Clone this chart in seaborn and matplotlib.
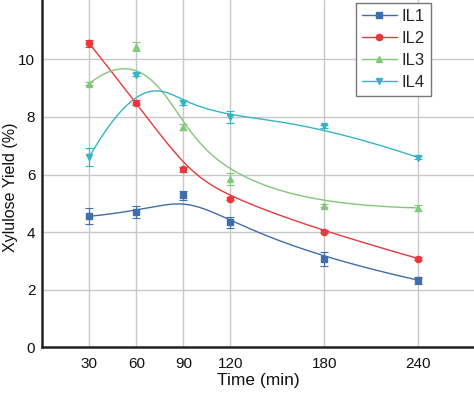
import numpy as np
import pandas as pd
import matplotlib
matplotlib.use("Agg")
import matplotlib.pyplot as plt
import seaborn as sns
from matplotlib.lines import Line2D

# time points (min)
time = [30, 60, 90, 120, 180, 240]

# xylulose yield (%) and error bars
il1 = [4.55, 4.70, 5.28, 4.34, 3.06, 2.33]
il1_err = [0.28, 0.20, 0.15, 0.20, 0.25, 0.12]
il2 = [10.55, 8.50, 6.18, 5.16, 4.01, 3.08]
il2_err = [0.12, 0.08, 0.08, 0.05, 0.05, 0.05]
il3 = [9.16, 10.44, 7.64, 5.84, 4.92, 4.84]
il3_err = [0.05, 0.15, 0.10, 0.20, 0.05, 0.10]
il4 = [6.61, 9.46, 8.50, 8.00, 7.68, 6.59]
il4_err = [0.30, 0.05, 0.10, 0.20, 0.05, 0.05]

names = ["IL1", "IL2", "IL3", "IL4"]
colors = ["#3f6eaa", "#e8383d", "#82c87a", "#35b4c8"]
markers = ["s", "o", "^", "v"]


def bspline(px, py, n=300, p=3):
    # clamped cubic B-spline using the data as control points (Origin style)
    c = np.column_stack([px, py]).astype(float)
    m = len(c)
    t = np.concatenate([[0.0] * p, np.linspace(0, 1, m - p + 1), [1.0] * p])
    out = []
    for u in np.linspace(0, 1, n):
        k = min(np.searchsorted(t, u, side="right") - 1, m - 1)
        d = [c[j + k - p].copy() for j in range(p + 1)]
        for r in range(1, p + 1):
            for j in range(p, r - 1, -1):
                den = t[j + 1 + k - r] - t[j + k - p]
                a = 0.0 if den == 0 else (u - t[j + k - p]) / den
                d[j] = (1 - a) * d[j - 1] + a * d[j]
        out.append(d[p])
    out = np.array(out)
    return out[:, 0], out[:, 1]


sns.set_style("whitegrid")
plt.rcParams["font.family"] = ["Liberation Sans", "DejaVu Sans"]

fig = plt.figure(figsize=(4.74, 3.93), dpi=100)
ax = fig.add_axes([42.3 / 474, (393 - 347.3) / 393, 1 - 42.3 / 474, 347.3 / 393])

series = [il1, il2, il3, il4]
errs = [il1_err, il2_err, il3_err, il4_err]

curves = []
for name, ys in zip(names, series):
    cx, cy = bspline(time, ys)
    curves.append(pd.DataFrame({"x": cx, "y": cy, "series": name}))
curve_df = pd.concat(curves, ignore_index=True)

sns.lineplot(data=curve_df, x="x", y="y", hue="series", palette=colors,
             sort=False, estimator=None, linewidth=1.0, legend=False, ax=ax)

for ys, er, col, mk in zip(series, errs, colors, markers):
    ax.errorbar(time, ys, yerr=er, fmt=mk, color=col, ms=4.5,
                elinewidth=0.8, capsize=3, capthick=0.8, zorder=3)

ax.set_xlim(0, (474 - 42.3) / 1.5667)
ax.set_ylim(0, 12.06)
ax.set_xticks(time)
ax.set_yticks([0, 2, 4, 6, 8, 10])
ax.tick_params(axis="both", length=0, labelsize=11, colors="#111111")
ax.tick_params(axis="x", pad=7)
ax.tick_params(axis="y", pad=5)
ax.grid(True, color="#c8c8c8", linewidth=1.0)
for s in ["top", "right"]:
    ax.spines[s].set_visible(False)
for s in ["left", "bottom"]:
    ax.spines[s].set_color("#222222")
    ax.spines[s].set_linewidth(1.8)

ax.set_xlabel("Time (min)", fontsize=12.5, color="#111111")
ax.set_ylabel("Xylulose Yield (%)", fontsize=11.5, color="#111111")
ax.xaxis.set_label_coords(0.5, -0.074)
ax.yaxis.set_label_coords(-0.0565, 0.46)

handles = [Line2D([0], [0], color=c, marker=m, ms=4.5, lw=1.0)
           for c, m in zip(colors, markers)]
leg = ax.legend(handles, names, loc="upper left",
                bbox_to_anchor=(355.7 / 474, 1 - 3.3 / 393),
                bbox_transform=fig.transFigure, fontsize=12,
                frameon=True, fancybox=False, framealpha=1,
                edgecolor="#777777", borderpad=0.35, labelspacing=0.42,
                handlelength=2.1, handletextpad=0.3, borderaxespad=0)
leg.get_frame().set_linewidth(1.0)

fig.savefig("out.png", dpi=100)
